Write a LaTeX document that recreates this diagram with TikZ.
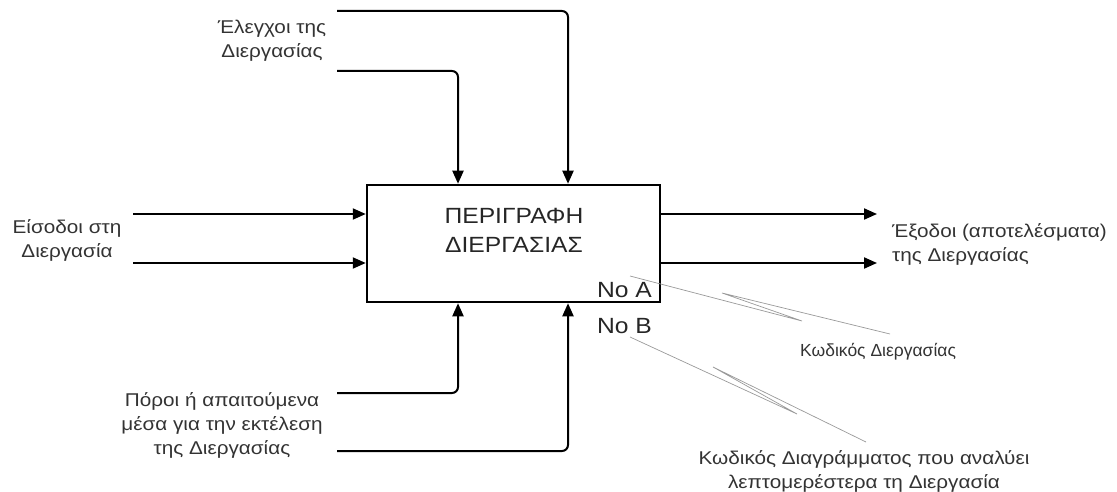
\documentclass[tikz,border=0pt]{standalone}
\usepackage{fontspec}
\setmainfont{Liberation Sans}[FakeStretch=1.12]
\newfontfamily\plainsans{Liberation Sans}
\usetikzlibrary{arrows.meta}
\begin{document}
\begin{tikzpicture}[x=1pt,y=-1pt,
  flow/.style={line width=2pt,-{Triangle[length=13pt,width=11pt]},rounded corners=6pt},
  lbl/.style={font=\fontsize{18.5}{24}\selectfont,align=center,inner sep=0pt,text=black!80},
  code/.style={font=\fontsize{22}{26}\selectfont,inner sep=0pt,text=black!85},
  callout/.style={draw=black!40,line width=0.7pt,line join=miter}]
\useasboundingbox (0,0) rectangle (1117,492);

% process box and its title
\node[draw,line width=2.5pt,minimum width=293pt,minimum height=117pt,inner sep=0pt] (proc) at (513.5,243.5) {};
\node[font=\fontsize{22}{29}\selectfont,align=center,text=black!85] (title) at (514,230) {ΠΕΡΙΓΡΑΦΗ\\ΔΙΕΡΓΑΣΙΑΣ};
\node[code,anchor=east] (noA) at (652,290) {No A};
\node[code,anchor=east] (noB) at (652,326) {No B};

% labels
\node[lbl] (inputs) at (67,240) {Είσοδοι στη\\Διεργασία};
\node[lbl] (controls) at (272,41) {Έλεγχοι της\\Διεργασίας};
\node[lbl,align=left,anchor=west] (outputs) at (892,244) {Έξοδοι (αποτελέσματα)\\της Διεργασίας};
\node[lbl] (mechs) at (222,425) {Πόροι ή απαιτούμενα\\μέσα για την εκτέλεση\\της Διεργασίας};
\node[lbl,font=\plainsans\fontsize{17.5}{22}\selectfont,anchor=west] (codeLbl) at (800,352) {Κωδικός Διεργασίας};
\node[lbl] (diagLbl) at (864,471) {Κωδικός Διαγράμματος που αναλύει\\λεπτομερέστερα τη Διεργασία};

% free ends of the connectors
\coordinate (inA) at (133,214);
\coordinate (inB) at (133,263);
\coordinate (outA) at (877,214);
\coordinate (outB) at (877,263);
\coordinate (ctlA) at (337,71);
\coordinate (ctlB) at (337,11);
\coordinate (mecA) at (337,393);
\coordinate (mecB) at (337,451);

% inputs and outputs
\draw[flow] (inA) -- (inA -| proc.west);
\draw[flow] (inB) -- (inB -| proc.west);
\draw[flow] (outA -| proc.east) -- (outA);
\draw[flow] (outB -| proc.east) -- (outB);

% controls from above, mechanisms from below
\draw[flow] (ctlA) -| (458,0 |- proc.north);
\draw[flow] (ctlB) -| (568,0 |- proc.north);
\draw[flow] (mecA) -| (458,0 |- proc.south);
\draw[flow] (mecB) -| (568,0 |- proc.south);

% zigzag callouts for the two codes
\coordinate (aS) at (630,276);
\coordinate (aE) at (890,334);
\draw[callout] (aS) -- (802,321) -- (722,293) -- (aE);
\coordinate (bS) at (630,337);
\coordinate (bE) at (866,442);
\draw[callout] (bS) -- (797,414) -- (713,367) -- (bE);
\end{tikzpicture}
\end{document}
